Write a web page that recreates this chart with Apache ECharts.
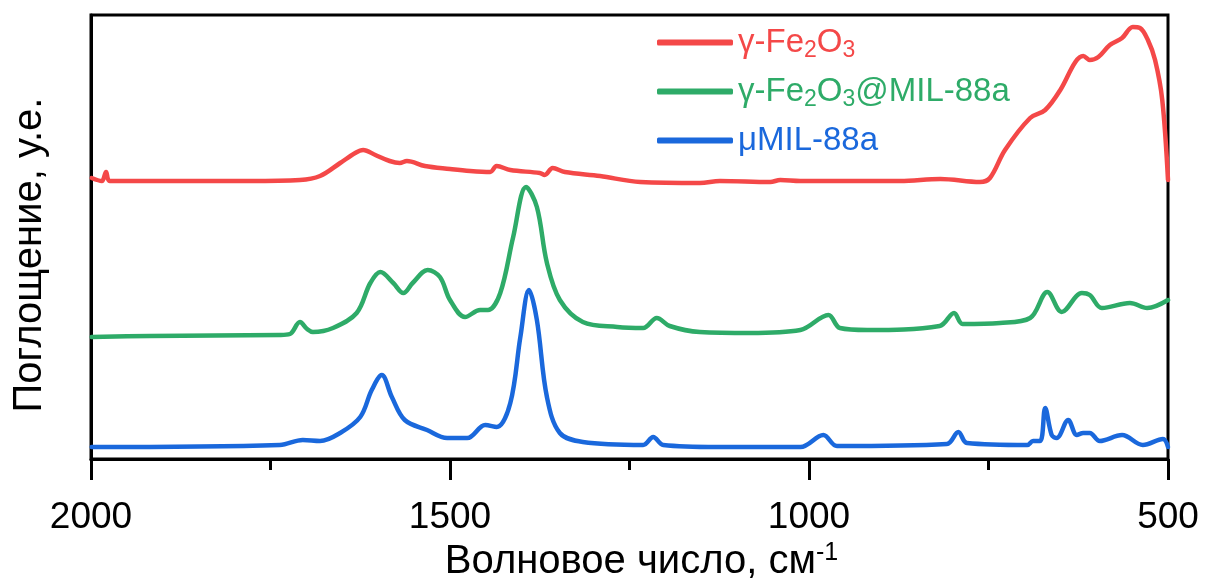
<!DOCTYPE html>
<html>
<head>
<meta charset="utf-8">
<script src="https://cdn.jsdelivr.net/npm/echarts@6/dist/echarts.min.js"></script>
<style>
html,body{margin:0;padding:0;background:#fff;}
#chart{width:1205px;height:584px;}
</style>
</head>
<body>
<div id="chart"></div>
<script>
// Wavenumber (cm-1) and absorbance (arb. units)
const redX = [1999,1985,1979,1974,1918,1848,1779,1709,1681,1653,1632,1621,1604,1584,1570,1560,1535,1500,1472,1444,1435,1416,1375,1368,1357,1340,1291,1235,1152,1124,1054,1040,1012,873,817,762,748,727,692,671,650,629,618,609,597,581,564,549,539,528,518,508,500];
const redY = [281,278,287,278,278,278,278,279,283,296,306,309,304,298,296,298,293,290,288,287,293,289,286,284,291,287,283,277,276,278,277,279,278,278,280,277,281,309,341,349,369,397,403,399,402,414,421,432,431,419,399,359,279];

const greenX = [1999,1918,1737,1723,1709,1699,1691,1663,1630,1611,1597,1579,1565,1552,1531,1514,1500,1479,1458,1447,1430,1412,1394,1379,1365,1347,1315,1267,1231,1212,1194,1152,1082,1012,973,957,919,818,798,786,734,692,668,648,620,609,592,553,529,500];
const greenY = [122,123,124,125,137,130,127,131,146,176,187,176,166,176,189,182,159,142,149,149,166,222,272,252,196,159,137,132,131,141,133,127,126,129,144,131,129,133,146,135,136,141,167,147,166,164,151,156,151,159];

const blueX = [1999,1737,1705,1681,1653,1625,1609,1595,1581,1563,1532,1504,1476,1451,1435,1416,1402,1390,1379,1365,1347,1315,1231,1217,1203,1128,1012,980,961,808,792,780,696,688,678,671,662,655,639,627,618,609,595,564,535,507,500];
const blueY = [12,14,19,18,26,42,69,84,62,39,29,21,21,34,32,56,122,169,139,62,26,17,14,22,14,12,12,24,13,15,27,16,14,18,18,51,24,21,39,24,26,26,18,24,14,20,12];

const seriesNames = ['γ-Fe2O3', 'γ-Fe2O3@MIL-88a', 'μMIL-88a'];
const seriesColors = ['#F44848', '#2EAB68', '#1A68DC'];
const xTicks = [2000, 1500, 1000, 500];
const yTitle = 'Поглощение, у.е.';

function zip(xs, ys) { return xs.map((x, i) => [x, ys[i]]); }
const datasets = [zip(redX, redY), zip(greenX, greenY), zip(blueX, blueY)];

const FONT = 'Liberation Sans, Arial, sans-serif';
const legendKeys = ['r', 'g', 'b'];
const rich = {};
legendKeys.forEach((k, i) => {
  rich[k] = { color: seriesColors[i], fontSize: 33, fontFamily: FONT };
  rich[k + 's'] = { color: seriesColors[i], fontSize: 23, fontFamily: FONT, padding: [16, 0, 0, 0] };
});

function legendFormat(name) {
  const i = seriesNames.indexOf(name);
  const k = legendKeys[i];
  if (i === 2) return '{' + k + '|' + name + '}';
  const rest = name.replace('γ-Fe2O3', '');
  let s = '{' + k + '|γ-Fe}{' + k + 's|2}{' + k + '|O}{' + k + 's|3}';
  if (rest) s += '{' + k + '|' + rest + '}';
  return s;
}

const chart = echarts.init(document.getElementById('chart'), null, { renderer: 'canvas' });
chart.setOption({
  animation: false,
  backgroundColor: '#fff',
  grid: {
    left: 91, right: 37, top: 15, bottom: 125,
    containLabel: false, outerBoundsMode: 'none',
    show: true, borderColor: '#000', borderWidth: 3, backgroundColor: 'transparent'
  },
  graphic: [{
    type: 'text',
    x: 30,
    y: 255,
    rotation: Math.PI / 2,
    style: { text: yTitle, fontSize: 40, fontFamily: FONT, fill: '#000', textAlign: 'center', textVerticalAlign: 'middle' }
  }],
  legend: {
    orient: 'vertical',
    left: 652,
    top: 21,
    itemWidth: 76,
    itemHeight: 6,
    itemGap: 13,
    icon: 'roundRect',
    data: seriesNames,
    formatter: legendFormat,
    textStyle: { fontSize: 33, rich: rich }
  },
  xAxis: {
    type: 'value',
    inverse: true,
    min: 500,
    max: 2000,
    interval: 500,
    name: '{n|Волновое число, см}{sup|-1}',
    nameLocation: 'middle',
    nameGap: 80,
    nameTextStyle: {
      padding: [0, 0, 0, 24],
      rich: {
        n: { fontSize: 40, color: '#000', fontFamily: FONT },
        sup: { fontSize: 25, color: '#000', fontFamily: FONT, padding: [0, 0, 18, 0] }
      }
    },
    axisLine: { show: true, lineStyle: { color: '#000', width: 3 } },
    axisTick: { show: true, length: 21, lineStyle: { color: '#000', width: 3 } },
    minorTick: { show: true, splitNumber: 2, length: 11, lineStyle: { color: '#000', width: 3 } },
    splitLine: { show: false },
    axisLabel: {
      margin: 40,
      fontSize: 37,
      color: '#000',
      fontFamily: FONT,
      formatter: v => (xTicks.indexOf(v) >= 0 ? String(v) : '')
    }
  },
  yAxis: {
    type: 'value',
    min: 0,
    max: 444,
    axisLine: { show: true, lineStyle: { color: '#000', width: 3 } },
    axisTick: { show: false },
    axisLabel: { show: false },
    splitLine: { show: false }
  },
  series: seriesNames.map((n, i) => ({
    name: n,
    type: 'line',
    data: datasets[i],
    smooth: 0.35,
    showSymbol: false,
    symbol: 'none',
    color: seriesColors[i],
    lineStyle: { color: seriesColors[i], width: 4.5, cap: 'round', join: 'round' },
    z: 3 - i
  }))
});
</script>
</body>
</html>
